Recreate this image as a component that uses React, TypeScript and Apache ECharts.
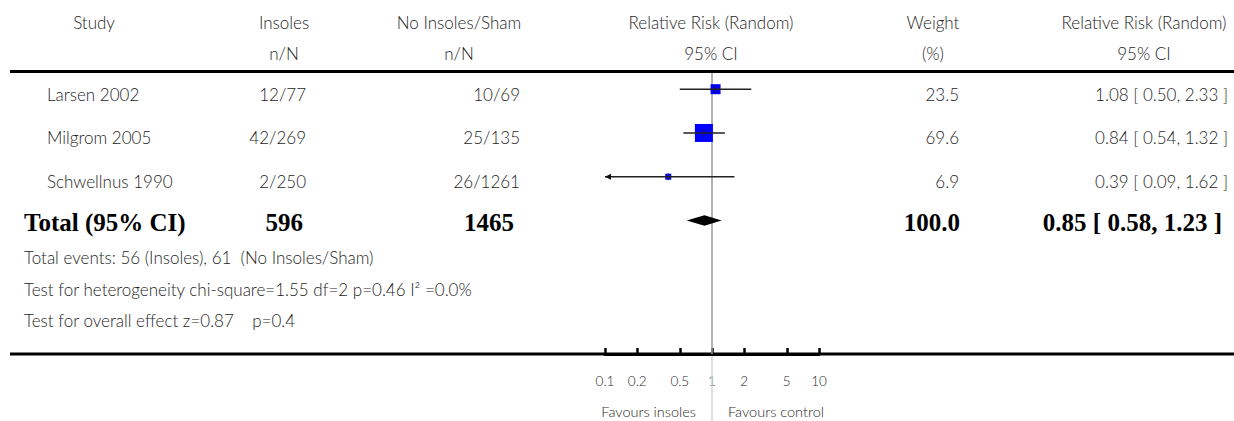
import React, { useEffect, useRef } from "react";
import * as echarts from "echarts";

const studies = ["Larsen 2002", "Milgrom 2005", "Schwellnus 1990"];
const insolesEvents = ["12/77", "42/269", "2/250"];
const controlEvents = ["10/69", "25/135", "26/1261"];
const riskRatio = [1.08, 0.84, 0.39];
const ciLower = [0.5, 0.54, 0.09];
const ciUpper = [2.33, 1.32, 1.62];
const weights = [23.5, 69.6, 6.9];
const weightLabels = ["23.5", "69.6", "6.9"];
const ciLabels = ["1.08 [ 0.50, 2.33 ]", "0.84 [ 0.54, 1.32 ]", "0.39 [ 0.09, 1.62 ]"];
const totalLabel = "Total (95% CI)";
const totalInsoles = "596";
const totalControl = "1465";
const totalWeight = "100.0";
const totalRR = [0.85, 0.58, 1.23];
const totalCiLabel = "0.85 [ 0.58, 1.23 ]";
const headerRow1 = ["Study", "Insoles", "No Insoles/Sham", "Relative Risk (Random)", "Weight", "Relative Risk (Random)"];
const headerRow2 = ["", "n/N", "n/N", "95% CI", "(%)", "95% CI"];
const footnotes = [
  "Total events: 56 (Insoles), 61  (No Insoles/Sham)",
  "Test for heterogeneity chi-square=1.55 df=2 p=0.46 I² =0.0%",
  "Test for overall effect z=0.87    p=0.4",
];
const tickValues = [0.1, 0.2, 0.5, 1, 2, 5, 10];
const tickLabels = ["0.1", "0.2", "0.5", "1", "2", "5", "10"];
const favourLabels = ["Favours insoles", "Favours control"];

const SANS = "Lato, 'Open Sans', sans-serif";
const SERIF = "'Liberation Serif', 'DejaVu Serif', serif";
const TXT = "#1e1e1e";
const FS = 17;
const BFS = 25;

// layout (pixels)
const headerX = [94, 284, 459, 711, 933, 1144];
const studyX = 47;
const insolesRight = 306;
const controlRight = 520;
const weightRight = 959;
const ciRight = 1228;
const textDy = 5;

export default function App() {
  const ref = useRef<HTMLDivElement>(null);
  useEffect(() => {
    if (!ref.current) return;
    const chart = echarts.init(ref.current, null, { renderer: "svg" });

    const txt = (text: string, x: number, y: number, align: string, bold = false, extra: any = {}) => ({
      type: "text",
      x,
      y,
      style: {
        text,
        fill: bold ? "#000" : TXT,
        fontSize: bold ? BFS : FS,
        fontFamily: bold ? SERIF : SANS,
        fontWeight: bold ? "bold" : 300,
        align,
        verticalAlign: "middle",
        ...extra,
      },
    });

    const graphics: any[] = [];
    headerRow1.forEach((t, i) => graphics.push(txt(t, headerX[i], 22, "center")));
    headerRow2.forEach((t, i) => t && graphics.push(txt(t, headerX[i], 53, "center")));
    graphics.push({ type: "line", shape: { x1: 10, y1: 71.5, x2: 1234, y2: 71.5 }, style: { stroke: "#000", lineWidth: 3 } });
    graphics.push({ type: "line", shape: { x1: 10, y1: 354, x2: 1234, y2: 354 }, style: { stroke: "#000", lineWidth: 3 } });
    const footY = [257, 289, 320];
    footnotes.forEach((t, i) => graphics.push(txt(t, 24, footY[i], "left")));

    const studyData = studies.map((_, i) => [riskRatio[i], i, ciLower[i], ciUpper[i], weights[i]]);
    const totalData = [[totalRR[0], 3, totalRR[1], totalRR[2], 100]];

    const option: any = {
      animation: false,
      grid: { left: 605, right: 415, top: 73, bottom: 67 },
      xAxis: {
        type: "log",
        logBase: 10,
        min: 0.1,
        max: 10,
        position: "bottom",
        axisLine: { show: true, onZero: false, lineStyle: { color: "#000", width: 3 } },
        axisTick: { show: true, inside: true, length: 6, lineStyle: { color: "#000", width: 2.5 }, customValues: tickValues },
        axisLabel: {
          customValues: tickValues,
          margin: 20,
          fontSize: 13.5,
          fontWeight: 300,
          color: "#1e1e1e",
          fontFamily: SANS,
          formatter: (v: number) => {
            let best = 0;
            tickValues.forEach((t, i) => {
              if (Math.abs(Math.log(t) - Math.log(v)) < Math.abs(Math.log(tickValues[best]) - Math.log(v))) best = i;
            });
            return tickLabels[best];
          },
        },
        splitLine: { show: false },
        minorTick: { show: false },
      },
      yAxis: { type: "value", min: -0.37, max: 6.05, inverse: true, show: false },
      graphic: graphics,
      series: [
        {
          type: "custom",
          z: 1,
          data: [[1, 0]],
          renderItem: (params: any, api: any) => {
            const cs = params.coordSys;
            const x = api.coord([api.value(0), 0])[0];
            const bottom = cs.y + cs.height;
            return {
              type: "group",
              children: [
                { type: "line", shape: { x1: x, y1: cs.y, x2: x, y2: bottom }, style: { stroke: "#9a9a9a", lineWidth: 1.5 } },
                { type: "line", shape: { x1: x, y1: bottom + 2, x2: x, y2: 421 }, style: { stroke: "#d4d4d4", lineWidth: 1.5 } },
                txt(favourLabels[0], x - 16, 411, "right", false, { fontSize: 14.5 }),
                txt(favourLabels[1], x + 16, 411, "left", false, { fontSize: 14.5 }),
              ],
            };
          },
        },
        {
          type: "custom",
          z: 3,
          data: studyData,
          renderItem: (params: any, api: any) => {
            const i = params.dataIndex;
            const est = api.value(0);
            const row = api.value(1);
            const lo = api.value(2);
            const hi = api.value(3);
            const w = api.value(4);
            const loC = Math.max(lo, 0.1);
            const hiC = Math.min(hi, 10);
            const pE = api.coord([est, row]);
            const pL = api.coord([loC, row]);
            const pH = api.coord([hiC, row]);
            const y = pE[1];
            const s = Math.max(6, Math.round(2.15 * Math.sqrt(w)));
            const children: any[] = [
              { type: "rect", shape: { x: pE[0] - s / 2, y: y - s / 2, width: s, height: s }, style: { fill: "#0000ff" } },
              { type: "line", shape: { x1: pL[0], y1: y, x2: pH[0], y2: y }, style: { stroke: "#222", lineWidth: 1.4 } },
              { type: "line", shape: { x1: pE[0], y1: y - 3.5, x2: pE[0], y2: y + 3.5 }, style: { stroke: "#222", lineWidth: 1 } },
            ];
            if (lo < 0.1) {
              children.push({
                type: "polygon",
                shape: { points: [[pL[0], y], [pL[0] + 6, y - 3], [pL[0] + 6, y + 3]] },
                style: { fill: "#111" },
              });
            }
            const ty = y + textDy;
            children.push(txt(studies[i], studyX, ty, "left"));
            children.push(txt(insolesEvents[i], insolesRight, ty, "right"));
            children.push(txt(controlEvents[i], controlRight, ty, "right"));
            children.push(txt(weightLabels[i], weightRight, ty, "right"));
            children.push(txt(ciLabels[i], ciRight, ty, "right"));
            return { type: "group", children };
          },
        },
        {
          type: "custom",
          z: 3,
          data: totalData,
          renderItem: (params: any, api: any) => {
            const row = api.value(1);
            const pE = api.coord([api.value(0), row]);
            const pL = api.coord([api.value(2), row]);
            const pH = api.coord([api.value(3), row]);
            const y = pE[1];
            const h = 5.3;
            const ty = y + 1.5;
            return {
              type: "group",
              children: [
                {
                  type: "polygon",
                  shape: { points: [[pL[0], y], [pE[0], y - h], [pH[0], y], [pE[0], y + h]] },
                  style: { fill: "#000" },
                },
                txt(totalLabel, 24, ty, "left", true),
                txt(totalInsoles, insolesRight - 3, ty, "right", true),
                txt(totalControl, controlRight - 6, ty, "right", true),
                txt(totalWeight, weightRight + 1, ty, "right", true),
                txt(totalCiLabel, ciRight - 6, ty, "right", true),
              ],
            };
          },
        },
      ],
    };
    chart.setOption(option);
    return () => chart.dispose();
  }, []);
  return <div ref={ref} style={{ position: "absolute", left: 0, top: 0, width: 1234, height: 421, background: "#fff" }} />;
}
